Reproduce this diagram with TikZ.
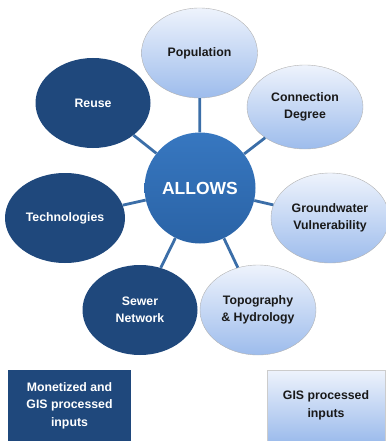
\documentclass[tikz,border=0pt]{standalone}
\usepackage{fontspec}
\setmainfont{Liberation Sans}
\usetikzlibrary{shapes.geometric}
\definecolor{navy}{HTML}{1F487C}
\definecolor{hubtop}{HTML}{3777C0}
\definecolor{hubbot}{HTML}{2A63A6}
\definecolor{paletop}{HTML}{EEF3FC}
\definecolor{palebot}{HTML}{9DBCEC}
\definecolor{linkblue}{HTML}{3B6EA8}
\tikzset{label font/.style = {font = \bfseries\fontsize{12.3}{17.5}\selectfont, align = center}}
\tikzset{dark/.style = {ellipse, fill = navy, text = white, inner sep = 0, minimum width = 115, minimum height = 90, label font}}
\tikzset{light/.style = {ellipse, draw = gray!60, top color = paletop, bottom color = palebot, text = black!90, inner sep = 0, minimum width = 116, minimum height = 90, label font}}
\tikzset{hub/.style = {circle, top color = hubtop, bottom color = hubbot, text = white, inner sep = 0, minimum size = 111, font = \bfseries\fontsize{17.5}{20}\selectfont}}
\tikzset{link/.style = {draw = linkblue, line width = 2.8}}

\begin{document}
\begin{tikzpicture}[x = 1pt, y = -1pt]
    \useasboundingbox (0, 0) rectangle (385, 441);

    \node [hub] (allows) at (200, 188) {ALLOWS};

    \node [light] (pop) at (199.5, 53) {Population};
    \node [light, minimum height = 84] (conn) at (305, 107) {Connection\\Degree};
    \node [light, minimum width = 118] (gw) at (330, 218) {Groundwater\\Vulnerability};
    \node [light] (topo) at (258, 310) {Topography\\\& Hydrology};

    \node [dark] (reuse) at (93, 103) {Reuse};
    \node [dark, minimum width = 120] (tech) at (65, 218) {Technologies};
    \node [dark] (sewer) at (140, 310) {Sewer\\Network};

    \foreach \n in {pop, conn, gw, topo, reuse, tech, sewer}
      \draw [link] (allows) -- (\n);

    % legend
    \node [rectangle, fill = navy, text = white, minimum width = 123, minimum height = 71, inner sep = 0, label font] (mixed) at (69.5, 405.5) {Monetized and\\GIS processed\\inputs};
    \node [rectangle, draw = gray!40, top color = paletop, bottom color = palebot, text = black!90, minimum width = 118, minimum height = 71, inner sep = 0, label font] (gis) at (326, 405.5) {GIS processed\\inputs};
\end{tikzpicture}
\end{document}
